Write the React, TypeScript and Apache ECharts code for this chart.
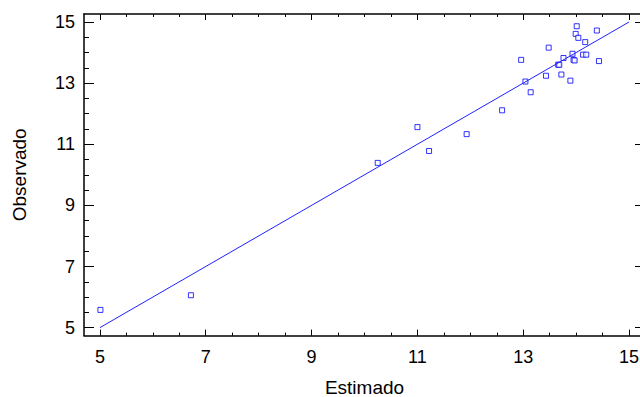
import React, { useEffect, useRef } from "react";
import * as echarts from "echarts";

// Estimado (x) vs Observado (y)
const estimado = [
  5.01, 6.72, 10.25, 11.0, 11.22, 11.93, 12.6, 12.96, 13.04, 13.14, 13.43, 13.48, 13.66, 13.68,
  13.72, 13.76, 13.89, 13.93, 13.95, 13.97, 13.99, 14.01, 14.04, 14.13, 14.17, 14.19, 14.39, 14.43,
];
const observado = [
  5.58, 6.06, 10.39, 11.56, 10.78, 11.33, 12.11, 13.76, 13.05, 12.7, 13.24, 14.16, 13.6, 13.6,
  13.28, 13.82, 13.08, 13.96, 13.76, 13.74, 14.61, 14.86, 14.48, 13.93, 14.34, 13.93, 14.72, 13.72,
];
const fitLine = [
  [5, 5],
  [15, 15],
];
const majorTicks = [5, 7, 9, 11, 13, 15];
const minorTicks = [5.5, 6, 6.5, 7.5, 8, 8.5, 9.5, 10, 10.5, 11.5, 12, 12.5, 13.5, 14, 14.5];
const xRange = [4.7, 15.3];
const yRange = [4.74, 15.26];

const FONT = "'Liberation Sans', Arial, sans-serif";

function xAx(position: string, major: boolean, labels: boolean, line: boolean) {
  return {
    type: "value",
    position,
    min: xRange[0],
    max: xRange[1],
    splitLine: { show: false },
    axisLine: { show: line, onZero: false, lineStyle: { color: "#000", width: 1.5 } },
    axisTick: {
      show: true,
      inside: true,
      length: major ? 6 : 3,
      customValues: major ? majorTicks : minorTicks,
      lineStyle: { color: "#000", width: 1 },
    },
    axisLabel: {
      show: labels,
      customValues: majorTicks,
      margin: 12,
      fontSize: 18,
      fontFamily: FONT,
      color: "#000",
    },
    ...(labels
      ? {
          name: "Estimado",
          nameLocation: "middle",
          nameGap: 42,
          nameTextStyle: { fontSize: 19, fontFamily: FONT, color: "#000" },
        }
      : {}),
  };
}

function yAx(position: string, major: boolean, labels: boolean, line: boolean) {
  return {
    type: "value",
    position,
    min: yRange[0],
    max: yRange[1],
    splitLine: { show: false },
    axisLine: { show: line, onZero: false, lineStyle: { color: "#000", width: 1.5 } },
    axisTick: {
      show: true,
      inside: true,
      length: major ? 10 : 5,
      customValues: major ? majorTicks : minorTicks,
      lineStyle: { color: "#000", width: 1 },
    },
    axisLabel: {
      show: labels,
      customValues: majorTicks,
      margin: 9,
      fontSize: 18,
      fontFamily: FONT,
      color: "#000",
    },
    ...(labels
      ? {
          name: "Observado",
          nameLocation: "middle",
          nameGap: 55,
          nameTextStyle: { fontSize: 19, fontFamily: FONT, color: "#000" },
        }
      : {}),
  };
}

export default function App() {
  const ref = useRef<HTMLDivElement>(null);
  useEffect(() => {
    if (!ref.current) return;
    const chart = echarts.init(ref.current, null, { renderer: "svg" });
    chart.setOption({
      animation: false,
      backgroundColor: "#fff",
      grid: {
        left: 84,
        top: 14,
        width: 561,
        height: 321.6,
        containLabel: false,
        outerBoundsMode: "none",
      },
      xAxis: [
        xAx("bottom", true, true, true),
        xAx("bottom", false, false, false),
        xAx("top", true, false, true),
        xAx("top", false, false, false),
      ],
      yAxis: [
        yAx("left", true, true, true),
        yAx("left", false, false, false),
        yAx("right", true, false, true),
        yAx("right", false, false, false),
      ],
      series: [
        {
          type: "line",
          data: fitLine,
          xAxisIndex: 0,
          yAxisIndex: 0,
          symbol: "none",
          lineStyle: { color: "#2020ff", width: 1 },
          silent: true,
        },
        {
          type: "scatter",
          data: estimado.map((x, i) => [x, observado[i]]),
          xAxisIndex: 0,
          yAxisIndex: 0,
          symbol: "rect",
          symbolSize: 5,
          itemStyle: { color: "#fff", borderColor: "#0000ff", borderWidth: 1 },
        },
      ],
    });
    return () => chart.dispose();
  }, []);
  return (
    <div
      ref={ref}
      style={{ position: "fixed", left: 0, top: 0, width: 640, height: 397, background: "#fff" }}
    />
  );
}
